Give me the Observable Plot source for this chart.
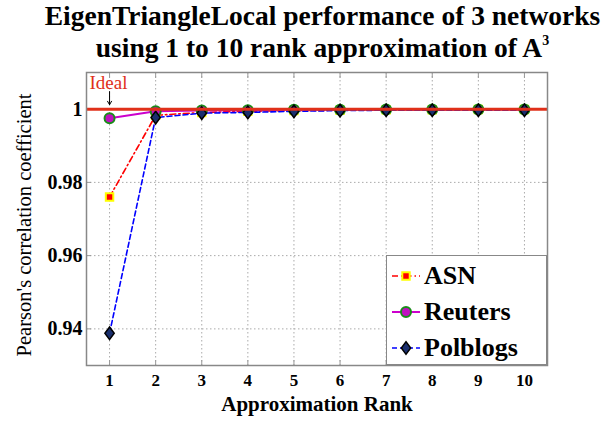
<!DOCTYPE html>
<html>
<head>
<meta charset="utf-8">
<script src="https://cdn.jsdelivr.net/npm/d3@7"></script>
<script src="https://cdn.jsdelivr.net/npm/@observablehq/plot@0.6"></script>
<style>
  html, body { margin: 0; padding: 0; background: #fff; }
  body { width: 615px; height: 423px; position: relative; overflow: hidden; font-family: "Liberation Serif", serif; }
  #title { height: 64px; box-sizing: border-box; padding-left: 30px; text-align: center; font-weight: bold; font-size: 27.5px; line-height: 32px; color: #000; white-space: nowrap; }
  #title sup { font-size: 14px; vertical-align: 12px; line-height: 0; }
  #chart svg, #chart svg text { font-family: "Liberation Serif", serif !important; }
  #legend { position: absolute; left: 386px; top: 255px; width: 161px; height: 110px; box-sizing: border-box; border: 1px solid #888; background: #fff; }
  .row { position: absolute; left: 0; height: 36px; display: flex; align-items: center; }
  .row span { font-weight: bold; font-size: 26px; margin-left: 3px; color: #000; }
</style>
</head>
<body>
<div id="title"><div>EigenTriangleLocal performance of 3 networks</div><div>using 1 to 10 rank approximation of A<sup>3</sup></div></div>
<div id="chart"></div>
<div id="legend"></div>
<script>
const ranks = [1, 2, 3, 4, 5, 6, 7, 8, 9, 10];
const asn      = [0.9760, 0.9983, 0.9991, 0.9994, 0.9996, 0.9997, 0.9998, 0.9998, 0.9999, 0.9999];
const reuters  = [0.9975, 0.9994, 0.9996, 0.9997, 0.9998, 0.9998, 0.9999, 0.9999, 0.9999, 0.9999];
const polblogs = [0.9388, 0.9977, 0.9989, 0.9991, 0.9994, 0.9996, 0.9997, 0.9997, 0.9997, 0.9997];
const seriesNames = ["ASN", "Reuters", "Polblogs"];
const yTicks = [0.94, 0.96, 0.98, 1];
const idealValue = 1;
const idealArrow = [{rank: 1, from: 1.0048, to: 1.0012}];
const FONT = "Liberation Serif, serif";

const styles = {
  ASN:      {line: "#ff0000", dash: "6,3,1.5,3", lw: 1.6, fill: "#ff0000", stroke: "#ffff00", sw: 2, r: 4.2, symbol: "square"},
  Reuters:  {line: "#cc00cc", dash: null, lw: 2, fill: "#c010c0", stroke: "#1a8c1a", sw: 2, r: 5, symbol: "circle"},
  Polblogs: {line: "#0000ff", dash: "5,3", lw: 1.6, fill: "#1a2f6e", stroke: "#000", sw: 1.5, r: 5.5, symbol: null}
};
const tallDiamond = {
  draw(ctx, size) {
    const r = Math.sqrt(size / Math.PI);
    const w = r * 0.85, h = r * 1.15;
    ctx.moveTo(0, -h); ctx.lineTo(w, 0); ctx.lineTo(0, h); ctx.lineTo(-w, 0); ctx.closePath();
  }
};
styles.Polblogs.symbol = tallDiamond;

const values = {ASN: asn, Reuters: reuters, Polblogs: polblogs};
const data = seriesNames.flatMap(s => ranks.map((r, i) => ({series: s, rank: r, value: values[s][i]})));

const marks = [
  Plot.gridX(ranks, {stroke: "#aaa", strokeOpacity: 1, strokeDasharray: "1.5,2.5"}),
  Plot.gridY(yTicks, {stroke: "#aaa", strokeOpacity: 1, strokeDasharray: "1.5,2.5"}),
  Plot.axisX({ticks: ranks, tickSize: 0, tickPadding: 8, fontSize: 17, fontWeight: "bold", fill: "#000", fontFamily: FONT, label: null}),
  Plot.axisX({ticks: ranks, anchor: "bottom", tickSize: -5, stroke: "#999", tickFormat: () => "", label: null}),
  Plot.axisX({ticks: ranks, anchor: "top", tickSize: -5, stroke: "#999", tickFormat: () => "", label: null}),
  Plot.axisY({ticks: yTicks, tickSize: 0, tickPadding: 4, fontSize: 20, fontWeight: "bold", fill: "#000", fontFamily: FONT,
    tickFormat: d => d === 1 ? "1" : d.toFixed(2), label: null}),
  Plot.axisY({ticks: yTicks, anchor: "left", tickSize: -5, stroke: "#999", tickFormat: () => "", label: null}),
  Plot.axisY({ticks: yTicks, anchor: "right", tickSize: -5, stroke: "#999", tickFormat: () => "", label: null}),
  Plot.text(["Approximation Rank"], {frameAnchor: "bottom", dy: 39, fontSize: 21, fontWeight: "bold", fill: "#000", fontFamily: FONT, lineAnchor: "middle", textAnchor: "middle"}),
  Plot.text(["Pearson's correlation coefficient"], {frameAnchor: "left", dx: -62, dy: 6, rotate: -90, fontSize: 20.5, fill: "#000", fontFamily: FONT, lineAnchor: "middle", textAnchor: "middle"})
];
for (const s of seriesNames) {
  const st = styles[s];
  const d = data.filter(e => e.series === s);
  marks.push(Plot.line(d, {x: "rank", y: "value", stroke: st.line, strokeWidth: st.lw, strokeDasharray: st.dash}));
}
for (const s of seriesNames) {
  const st = styles[s];
  const d = data.filter(e => e.series === s);
  marks.push(Plot.dot(d, {x: "rank", y: "value", r: st.r, symbol: st.symbol, fill: st.fill, stroke: st.stroke, strokeWidth: st.sw}));
}
marks.push(Plot.ruleY([idealValue], {stroke: "#e0301a", strokeWidth: 3}));
marks.push(Plot.text(["Ideal"], {frameAnchor: "top-left", dx: 3, dy: 10, fontSize: 19, fill: "#e0301a", fontFamily: FONT, lineAnchor: "middle", textAnchor: "start"}));
marks.push(Plot.arrow(idealArrow, {x1: "rank", x2: "rank", y1: "from", y2: "to", stroke: "#000", strokeWidth: 1, headLength: 6}));
marks.push(Plot.frame({stroke: "#888", strokeWidth: 1.5}));

const chart = Plot.plot({
  width: 615,
  height: 359,
  marginTop: 8,
  marginBottom: 58,
  marginLeft: 86,
  marginRight: 68,
  style: {fontFamily: FONT, background: "#fff", overflow: "visible"},
  x: {domain: [0.5, 10.5]},
  y: {domain: [0.93, 1.01]},
  marks
});
document.getElementById("chart").appendChild(chart);

// legend
const legend = document.getElementById("legend");
seriesNames.forEach((s, i) => {
  const st = styles[s];
  const row = document.createElement("div");
  row.className = "row";
  row.style.top = (2 + i * 36) + "px";
  const sw = d3.create("svg").attr("width", 30).attr("height", 20).style("margin-left", "4px");
  sw.append("line").attr("x1", 1).attr("x2", 29).attr("y1", 10).attr("y2", 10)
    .attr("stroke", st.line).attr("stroke-width", st.lw).attr("stroke-dasharray", st.dash);
  const sym = typeof st.symbol === "string" ? (st.symbol === "square" ? d3.symbolSquare : d3.symbolCircle) : st.symbol;
  sw.append("path").attr("transform", "translate(15,10)")
    .attr("d", d3.symbol(sym, Math.PI * st.r * st.r)())
    .attr("fill", st.fill).attr("stroke", st.stroke).attr("stroke-width", st.sw);
  row.appendChild(sw.node());
  const t = document.createElement("span");
  t.textContent = s;
  row.appendChild(t);
  legend.appendChild(row);
});
</script>
</body>
</html>
